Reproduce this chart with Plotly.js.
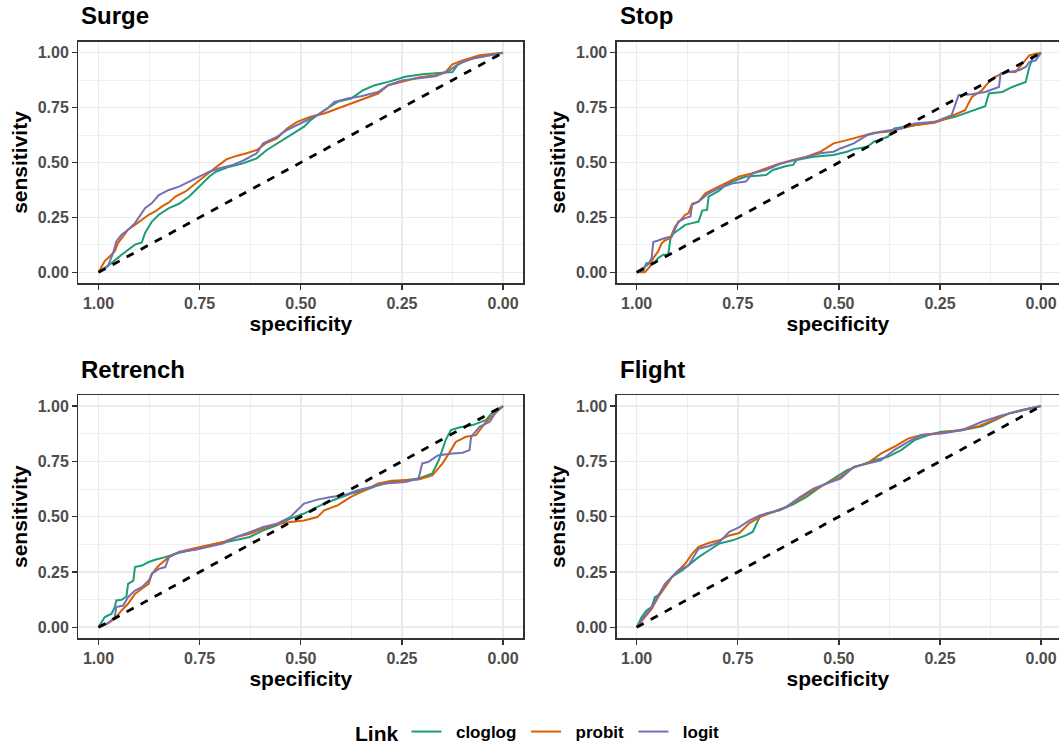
<!DOCTYPE html>
<html>
<head>
<meta charset="utf-8">
<script src="https://cdn.plot.ly/plotly-3.0.1.min.js"></script>
<style>html,body{margin:0;padding:0;background:#fff;overflow:hidden}#chart{width:1059px;height:746px;overflow:hidden}</style>
</head>
<body>
<div id="chart"></div>
<script>
// ---------- data ----------
const panels = ["Surge", "Stop", "Retrench", "Flight"];
const links = ["cloglog", "probit", "logit"];
const linkColors = ["#1B9E77", "#D95F02", "#7570B3"];
const diagSpec = [1, 0];
const diagSens = [0, 1];
const tickVals = [0, 0.25, 0.5, 0.75, 1];
const tickText = ["0.00", "0.25", "0.50", "0.75", "1.00"];

// Surge
const surge_cloglog_spec = [1,0.968,0.943,0.910,0.893,0.885,0.868,0.851,0.826,0.801,0.776,0.751,0.726,0.710,0.676,0.643,0.609,0.584,0.551,0.518,0.492,0.476,0.442,0.409,0.376,0.346,0.317,0.284,0.242,0.200,0.159,0.125,0.113,0.092,0.058,0];
const surge_cloglog_sens = [0,0.042,0.080,0.126,0.136,0.179,0.231,0.262,0.292,0.312,0.345,0.390,0.436,0.458,0.481,0.496,0.519,0.557,0.595,0.632,0.663,0.693,0.738,0.776,0.791,0.829,0.852,0.867,0.890,0.902,0.908,0.912,0.943,0.965,0.980,1];
const surge_probit_spec = [1,0.985,0.972,0.960,0.952,0.939,0.927,0.910,0.893,0.876,0.860,0.843,0.826,0.810,0.785,0.760,0.735,0.710,0.684,0.659,0.634,0.609,0.584,0.559,0.534,0.509,0.476,0.442,0.409,0.376,0.342,0.309,0.284,0.250,0.209,0.167,0.142,0.125,0.100,0.058,0];
const surge_probit_sens = [0,0.050,0.073,0.095,0.133,0.163,0.194,0.216,0.239,0.262,0.277,0.300,0.318,0.345,0.368,0.405,0.443,0.478,0.514,0.530,0.542,0.557,0.590,0.610,0.655,0.685,0.708,0.723,0.746,0.769,0.791,0.814,0.852,0.867,0.887,0.897,0.912,0.947,0.965,0.988,1];
const surge_logit_spec = [1,0.977,0.964,0.956,0.943,0.927,0.910,0.893,0.885,0.868,0.851,0.826,0.801,0.776,0.751,0.726,0.701,0.668,0.643,0.609,0.593,0.559,0.534,0.509,0.484,0.459,0.434,0.417,0.384,0.351,0.309,0.284,0.250,0.200,0.167,0.134,0.109,0.075,0.033,0];
const surge_logit_sens = [0,0.027,0.088,0.141,0.171,0.194,0.224,0.269,0.292,0.315,0.352,0.375,0.390,0.413,0.436,0.458,0.474,0.489,0.508,0.542,0.587,0.617,0.648,0.670,0.693,0.716,0.746,0.776,0.791,0.802,0.821,0.852,0.874,0.887,0.893,0.917,0.950,0.973,0.988,1];

// Stop
const stop_cloglog_spec = [1,0.984,0.976,0.955,0.947,0.934,0.922,0.917,0.913,0.897,0.880,0.863,0.847,0.838,0.826,0.822,0.796,0.780,0.763,0.730,0.680,0.663,0.630,0.613,0.605,0.563,0.513,0.480,0.463,0.430,0.413,0.379,0.363,0.313,0.263,0.213,0.179,0.138,0.129,0.096,0.071,0.046,0.038,0.029,0.021,0];
const stop_cloglog_sens = [0,0.005,0.042,0.045,0.065,0.080,0.080,0.148,0.171,0.194,0.216,0.224,0.231,0.281,0.284,0.345,0.372,0.398,0.413,0.436,0.443,0.466,0.484,0.489,0.511,0.526,0.534,0.549,0.561,0.572,0.595,0.617,0.655,0.670,0.685,0.708,0.731,0.756,0.814,0.821,0.844,0.859,0.867,0.935,0.973,1];
const stop_probit_spec = [1,0.980,0.967,0.959,0.947,0.938,0.930,0.917,0.905,0.888,0.880,0.872,0.863,0.847,0.830,0.805,0.780,0.746,0.713,0.680,0.646,0.613,0.580,0.546,0.513,0.480,0.446,0.413,0.379,0.346,0.313,0.263,0.229,0.188,0.171,0.146,0.129,0.113,0.088,0.063,0.029,0.013,0];
const stop_probit_sens = [0,0,0.027,0.065,0.095,0.133,0.145,0.156,0.209,0.247,0.262,0.269,0.312,0.322,0.360,0.383,0.405,0.436,0.451,0.474,0.496,0.511,0.526,0.549,0.587,0.602,0.617,0.635,0.640,0.655,0.670,0.681,0.705,0.738,0.799,0.829,0.867,0.890,0.912,0.912,0.988,0.995,1];
const stop_logit_spec = [1,0.972,0.963,0.959,0.947,0.930,0.913,0.897,0.880,0.867,0.863,0.847,0.822,0.796,0.763,0.730,0.713,0.680,0.646,0.613,0.580,0.546,0.513,0.496,0.463,0.430,0.396,0.363,0.346,0.313,0.263,0.221,0.204,0.171,0.138,0.104,0.100,0.079,0.054,0.038,0.029,0.013,0];
const stop_logit_sens = [0,0.035,0.065,0.138,0.145,0.156,0.163,0.231,0.247,0.254,0.307,0.322,0.360,0.383,0.405,0.413,0.451,0.466,0.493,0.508,0.526,0.542,0.549,0.564,0.587,0.625,0.640,0.648,0.655,0.678,0.685,0.716,0.806,0.811,0.821,0.844,0.905,0.912,0.920,0.935,0.958,0.965,1];

// Retrench
const retrench_cloglog_spec = [1,0.993,0.985,0.977,0.968,0.960,0.956,0.943,0.931,0.927,0.914,0.910,0.893,0.876,0.860,0.835,0.810,0.776,0.743,0.701,0.659,0.626,0.593,0.559,0.526,0.492,0.459,0.442,0.409,0.376,0.342,0.309,0.275,0.242,0.209,0.175,0.159,0.142,0.129,0.109,0.075,0.042,0.025,0];
const retrench_cloglog_sens = [0,0.023,0.045,0.053,0.060,0.091,0.121,0.124,0.139,0.196,0.211,0.272,0.279,0.295,0.305,0.317,0.332,0.347,0.363,0.378,0.396,0.408,0.438,0.461,0.491,0.514,0.544,0.559,0.582,0.604,0.619,0.642,0.657,0.665,0.672,0.695,0.755,0.846,0.891,0.903,0.914,0.937,0.974,1];
const retrench_probit_spec = [1,0.977,0.960,0.943,0.927,0.910,0.893,0.876,0.868,0.851,0.826,0.801,0.768,0.726,0.693,0.659,0.626,0.593,0.559,0.526,0.492,0.459,0.442,0.409,0.376,0.342,0.309,0.275,0.242,0.209,0.175,0.150,0.134,0.117,0.092,0.067,0.042,0.017,0];
const retrench_probit_sens = [0,0.018,0.038,0.076,0.106,0.151,0.174,0.196,0.242,0.279,0.317,0.340,0.355,0.370,0.385,0.408,0.423,0.446,0.465,0.476,0.483,0.498,0.529,0.551,0.589,0.619,0.650,0.662,0.665,0.668,0.687,0.740,0.785,0.838,0.861,0.869,0.929,0.974,1];
const retrench_logit_spec = [1,0.977,0.960,0.956,0.939,0.927,0.910,0.893,0.876,0.868,0.851,0.835,0.826,0.801,0.760,0.726,0.693,0.659,0.626,0.593,0.559,0.526,0.509,0.492,0.459,0.426,0.392,0.359,0.326,0.292,0.242,0.209,0.200,0.184,0.167,0.159,0.125,0.100,0.083,0.079,0.058,0.033,0.017,0];
const retrench_logit_sens = [0,0.018,0.045,0.091,0.098,0.136,0.166,0.181,0.211,0.242,0.264,0.272,0.317,0.340,0.350,0.363,0.378,0.408,0.431,0.453,0.468,0.498,0.529,0.559,0.577,0.589,0.597,0.619,0.634,0.650,0.657,0.672,0.740,0.748,0.770,0.778,0.785,0.789,0.801,0.861,0.906,0.929,0.974,1];

// Flight
const flight_cloglog_spec = [1,0.988,0.976,0.963,0.955,0.942,0.930,0.913,0.888,0.872,0.847,0.822,0.796,0.763,0.730,0.713,0.696,0.680,0.646,0.613,0.580,0.546,0.513,0.480,0.446,0.413,0.379,0.346,0.313,0.279,0.246,0.196,0.146,0.113,0.079,0.046,0];
const flight_cloglog_sens = [0,0.045,0.076,0.091,0.136,0.151,0.181,0.227,0.257,0.279,0.317,0.347,0.378,0.393,0.415,0.431,0.498,0.514,0.529,0.556,0.589,0.634,0.672,0.710,0.733,0.755,0.770,0.801,0.846,0.869,0.884,0.891,0.909,0.937,0.967,0.982,1];
const flight_probit_spec = [1,0.980,0.963,0.947,0.930,0.913,0.897,0.880,0.863,0.847,0.822,0.796,0.771,0.746,0.721,0.696,0.663,0.630,0.596,0.563,0.530,0.496,0.463,0.430,0.396,0.363,0.329,0.296,0.246,0.204,0.154,0.121,0.079,0.046,0];
const flight_probit_sens = [0,0.045,0.083,0.136,0.181,0.227,0.257,0.287,0.332,0.363,0.381,0.393,0.415,0.426,0.471,0.498,0.521,0.544,0.582,0.619,0.650,0.680,0.725,0.740,0.785,0.816,0.853,0.869,0.879,0.891,0.909,0.934,0.967,0.982,1];
const flight_logit_spec = [1,0.980,0.963,0.947,0.930,0.913,0.897,0.872,0.847,0.822,0.796,0.771,0.746,0.721,0.696,0.663,0.630,0.596,0.563,0.530,0.496,0.463,0.430,0.396,0.363,0.329,0.296,0.246,0.196,0.146,0.096,0.063,0.029,0];
const flight_logit_sens = [0,0.053,0.091,0.144,0.196,0.227,0.257,0.279,0.355,0.366,0.385,0.431,0.453,0.483,0.506,0.521,0.544,0.589,0.627,0.650,0.672,0.725,0.740,0.755,0.801,0.838,0.869,0.876,0.891,0.929,0.959,0.974,0.989,1];

const seriesSpec = [
  [surge_cloglog_spec, surge_probit_spec, surge_logit_spec],
  [stop_cloglog_spec, stop_probit_spec, stop_logit_spec],
  [retrench_cloglog_spec, retrench_probit_spec, retrench_logit_spec],
  [flight_cloglog_spec, flight_probit_spec, flight_logit_spec]
];
const seriesSens = [
  [surge_cloglog_sens, surge_probit_sens, surge_logit_sens],
  [stop_cloglog_sens, stop_probit_sens, stop_logit_sens],
  [retrench_cloglog_sens, retrench_probit_sens, retrench_logit_sens],
  [flight_cloglog_sens, flight_probit_sens, flight_logit_sens]
];

// ---------- layout ----------
const W = 1059;
const LH = 752; // drawing height; the visible page is 746 px tall (extra rows are empty legend padding)
const FONT = "Liberation Sans, Arial, Helvetica, sans-serif";
const NB = "\u00A0";
const xDomPx = [[78.3, 523.3], [616.7, 1059], [78.3, 523.3], [616.7, 1059]];
const yDomPx = [[41.7, 283.3], [41.7, 283.3], [395, 638.3], [395, 638.3]];
const xRanges = [[1.05, -0.05], [1.0494, -0.0444], [1.05, -0.05], [1.0494, -0.0444]];

const traces = [];
panels.forEach((p, i) => {
  const ax = i === 0 ? "" : String(i + 1);
  links.forEach((l, j) => {
    traces.push({
      type: "scatter", mode: "lines",
      x: seriesSpec[i][j], y: seriesSens[i][j],
      xaxis: "x" + ax, yaxis: "y" + ax,
      name: NB + NB + l + NB, legendgroup: l, showlegend: i === 0,
      line: {color: linkColors[j], width: 2},
      hoverinfo: "skip"
    });
  });
  traces.push({
    type: "scatter", mode: "lines",
    x: diagSpec, y: diagSens,
    xaxis: "x" + ax, yaxis: "y" + ax,
    showlegend: false,
    line: {color: "#000000", width: 2.8, dash: "8px,8px"},
    hoverinfo: "skip"
  });
});

const layout = {
  width: W, height: LH,
  margin: {l: 0, r: 0, t: 0, b: 0},
  paper_bgcolor: "#ffffff", plot_bgcolor: "#ffffff",
  font: {family: FONT, color: "#000000"},
  showlegend: true,
  legend: {
    orientation: "h",
    x: 353 / W, xanchor: "left", y: 0, yanchor: "bottom",
    title: {text: "Link", font: {size: 21, weight: "bold", color: "#000000"}, side: "left"},
    font: {size: 17, weight: "bold", color: "#000000"},
    bgcolor: "rgba(0,0,0,0)"
  },
  annotations: []
};

panels.forEach((p, i) => {
  const ax = i === 0 ? "" : String(i + 1);
  layout["xaxis" + ax] = {
    domain: [xDomPx[i][0] / W, xDomPx[i][1] / W],
    range: xRanges[i], anchor: "y" + ax,
    tickvals: tickVals, ticktext: tickText,
    ticks: "outside", ticklen: 5, tickwidth: 1.3, tickcolor: "#333333",
    ticklabelstandoff: 0,
    tickfont: {size: 16, weight: "bold", color: "#4D4D4D", family: FONT},
    showline: true, mirror: true, linecolor: "#333333", linewidth: 1.3,
    showgrid: true, gridcolor: "#EBEBEB", gridwidth: 1.6,
    minor: {dtick: 0.25, tick0: 0.125, showgrid: true, gridcolor: "#EBEBEB", gridwidth: 0.8, ticks: ""},
    zeroline: false, automargin: false,
    title: {text: "specificity", font: {size: 21, weight: "bold", color: "#000000", family: FONT}, standoff: 5}
  };
  layout["yaxis" + ax] = {
    domain: [1 - yDomPx[i][1] / LH, 1 - yDomPx[i][0] / LH],
    range: [-0.05, 1.05], anchor: "x" + ax,
    tickvals: tickVals, ticktext: tickText,
    ticks: "outside", ticklen: 5, tickwidth: 1.3, tickcolor: "#333333",
    tickfont: {size: 16, weight: "bold", color: "#4D4D4D", family: FONT},
    showline: true, mirror: true, linecolor: "#333333", linewidth: 1.3,
    showgrid: true, gridcolor: "#EBEBEB", gridwidth: 1.6,
    minor: {dtick: 0.25, tick0: 0.125, showgrid: true, gridcolor: "#EBEBEB", gridwidth: 0.8, ticks: ""},
    zeroline: false, automargin: false,
    title: {text: "sensitivity", font: {size: 21, weight: "bold", color: "#000000", family: FONT}, standoff: 4}
  };
  layout.annotations.push({
    text: p, xref: "paper", yref: "paper",
    x: (xDomPx[i][0] + 1) / W, xanchor: "left",
    y: 1 - (yDomPx[i][0] - 26) / LH, yanchor: "middle",
    showarrow: false,
    font: {size: 24, weight: "bold", color: "#000000", family: FONT}
  });
});

Plotly.newPlot("chart", traces, layout, {displayModeBar: false, staticPlot: true});
</script>
</body>
</html>
